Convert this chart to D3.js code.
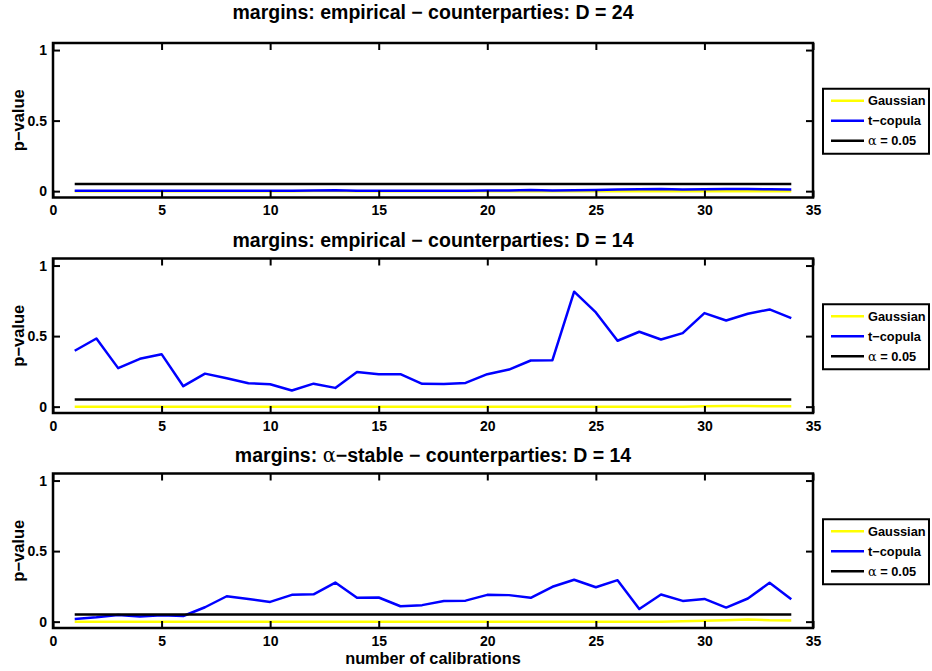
<!DOCTYPE html>
<html><head><meta charset="utf-8">
<script src="https://cdn.jsdelivr.net/npm/d3@7"></script>
<style>
body{margin:0;background:#fff}
svg text{font-family:"Liberation Sans",Arial,Helvetica,sans-serif;font-weight:bold;fill:#000}
</style>
</head><body>
<svg id="chart" width="932" height="671"></svg>
<script>
// ---------------- data ----------------
const calibrations = [1,2,3,4,5,6,7,8,9,10,11,12,13,14,15,16,17,18,19,20,21,22,23,24,25,26,27,28,29,30,31,32,33,34];
const xTicks = [0,5,10,15,20,25,30,35];
const yTicks = [0,0.5,1];
const xDomain = [0,35];
const yDomain = [-0.045,1.05];
const seriesNames = ["Gaussian","t\u2212copula","\u03b1 = 0.05"];
const alphaLevel = 0.05;

const titles = [
  "margins: empirical \u2212 counterparties: D = 24",
  "margins: empirical \u2212 counterparties: D = 14",
  "margins: \u03b1\u2212stable \u2212 counterparties: D = 14"
];

const gaussianEmpD24 = [0,0,0,0,0,0,0,0,0,0,0,0.001,0.001,0,0,0,0,0,0,0,0,0,0,0,0,0,0,0,0,0,0,0,0,0];
const tcopulaEmpD24  = [0.002,0.002,0.002,0.002,0.003,0.002,0.002,0.002,0.002,0.002,0.003,0.004,0.006,0.003,0.002,0.002,0.002,0.003,0.003,0.004,0.004,0.008,0.004,0.007,0.009,0.011,0.013,0.016,0.011,0.014,0.015,0.016,0.013,0.012];

const gaussianEmpD14 = [0,0,0,0,0,0,0,0,0,0,0,0,0,0,0,0,0,0,0,0,0,0,0,0,0,0,0,0,0,0.002,0.004,0.004,0.003,0.003];
const tcopulaEmpD14  = [0.396,0.483,0.273,0.339,0.372,0.145,0.234,0.201,0.166,0.159,0.114,0.163,0.133,0.246,0.230,0.230,0.162,0.161,0.168,0.230,0.263,0.327,0.329,0.815,0.668,0.467,0.531,0.476,0.521,0.663,0.611,0.658,0.689,0.628];

const gaussianStableD14 = [0,0,0,0,0,0,0,0,0,0,0,0,0,0,0,0,0,0,0,0,0,0,0,0,0,0,0,0,0.002,0.006,0.010,0.016,0.010,0.009];
const tcopulaStableD14  = [0.019,0.031,0.047,0.036,0.045,0.040,0.102,0.180,0.161,0.140,0.190,0.194,0.277,0.169,0.171,0.109,0.117,0.147,0.149,0.190,0.188,0.169,0.247,0.297,0.244,0.294,0.090,0.192,0.147,0.161,0.100,0.164,0.275,0.159];

const panelGaussian = [gaussianEmpD24, gaussianEmpD14, gaussianStableD14];
const panelTcopula  = [tcopulaEmpD24, tcopulaEmpD14, tcopulaStableD14];

// ---------------- layout ----------------
const svg = d3.select("#chart");
const left = 53, right = 813, boxH = 154.5;
const tops = [43, 258.5, 473.5];
const titleY = [18.5, 246.5, 461.5];
const colors = ["#ffff00","#0000ff","#000000"];

const x = d3.scaleLinear().domain(xDomain).range([left, right]);

tops.forEach((top, i) => {
  const bottom = top + boxH;
  const y = d3.scaleLinear().domain(yDomain).range([bottom, top]);
  const g = svg.append("g");

  // series
  const line = d3.line().x((d,k) => x(calibrations[k])).y(d => y(d));
  const alphaSeries = calibrations.map(() => alphaLevel);
  [panelGaussian[i], panelTcopula[i], alphaSeries].forEach((s, k) => {
    g.append("path").datum(s).attr("d", line)
      .attr("fill","none").attr("stroke", colors[k]).attr("stroke-width", 2.5)
      .attr("stroke-linejoin","round");
  });

  // axes
  const fs = "14px";
  const ax = g.append("g").attr("transform",`translate(${left},0)`)
    .call(d3.axisLeft(y).tickValues(yTicks).tickFormat(d3.format("")).tickSizeInner(-7).tickSizeOuter(0).tickPadding(6));
  const axR = g.append("g").attr("transform",`translate(${right},0)`)
    .call(d3.axisRight(y).tickValues(yTicks).tickFormat("").tickSizeInner(-7).tickSizeOuter(0));
  const axB = g.append("g").attr("transform",`translate(0,${bottom})`)
    .call(d3.axisBottom(x).tickValues(xTicks).tickFormat(d3.format("")).tickSizeInner(-7).tickSizeOuter(0).tickPadding(8));
  const axT = g.append("g").attr("transform",`translate(0,${top})`)
    .call(d3.axisTop(x).tickValues(xTicks).tickFormat("").tickSizeInner(-7).tickSizeOuter(0));
  [ax, axR, axB, axT].forEach(a => {
    a.select(".domain").remove();
    a.selectAll(".tick line").attr("stroke","#000").attr("stroke-width",2);
    a.selectAll("text").attr("font-size", fs).attr("font-family",null);
  });

  g.append("rect").attr("x", left).attr("y", top).attr("width", right-left).attr("height", boxH)
    .attr("fill","none").attr("stroke","#000").attr("stroke-width",2.5);

  // title
  const t = svg.append("text").attr("x", (left+right)/2).attr("y", titleY[i])
    .attr("text-anchor","middle").attr("font-size","19.5px");
  if (i === 2) {
    t.append("tspan").text("margins: ");
    t.append("tspan").text("\u03b1").attr("font-family","'DejaVu Serif',serif").attr("font-weight","normal");
    t.append("tspan").text("\u2212stable \u2212 counterparties: D = 14");
  } else {
    t.text(titles[i]);
  }

  // y label
  svg.append("text").attr("transform",`translate(24,${(top+bottom)/2}) rotate(-90)`)
    .attr("text-anchor","middle").attr("font-size","16.5px").text("p\u2212value");

  // legend
  const lgTop = (top+bottom)/2 - 31.5, lgLeft = 823, lgW = 106, lgH = 65;
  const lg = svg.append("g");
  lg.append("rect").attr("x", lgLeft).attr("y", lgTop).attr("width", lgW).attr("height", lgH)
    .attr("fill","#fff").attr("stroke","#000").attr("stroke-width",2);
  seriesNames.forEach((name, k) => {
    const ry = lgTop + 12 + k*20;
    lg.append("line").attr("x1", lgLeft+8).attr("x2", lgLeft+41).attr("y1", ry).attr("y2", ry)
      .attr("stroke", colors[k]).attr("stroke-width", 2.5);
    const tx = lg.append("text").attr("x", lgLeft+45).attr("y", ry+4.5).attr("font-size","12.8px");
    if (k === 2) {
      tx.append("tspan").text("\u03b1").attr("font-family","'DejaVu Serif',serif").attr("font-weight","normal");
      tx.append("tspan").text(" = 0.05");
    } else {
      tx.text(name);
    }
  });
});

svg.append("text").attr("x", (left+right)/2).attr("y", 664).attr("text-anchor","middle")
  .attr("font-size","16.3px").text("number of calibrations");
</script>
</body></html>
